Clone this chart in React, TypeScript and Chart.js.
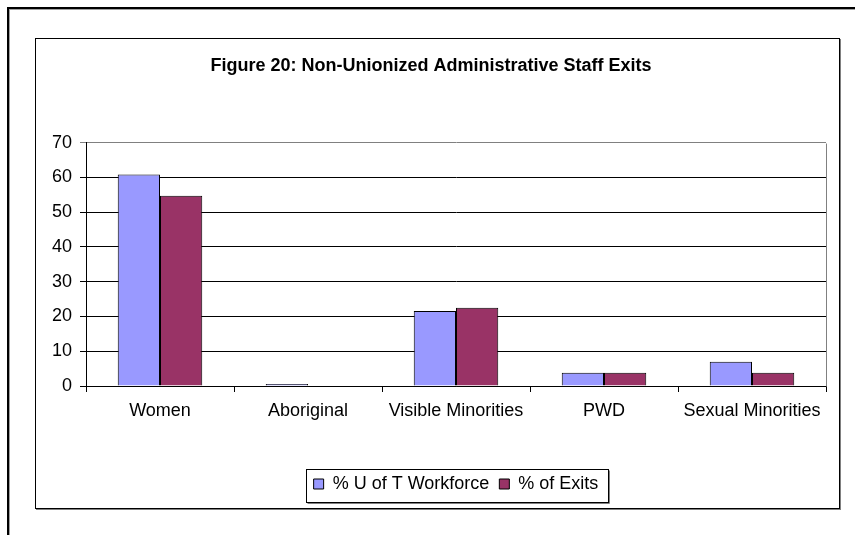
import React, { useEffect, useRef } from "react";
import { Chart, registerables } from "chart.js";

Chart.register(...registerables);

const chartTitle = "Figure 20: Non-Unionized Administrative Staff Exits";
const categories = ["Women", "Aboriginal", "Visible Minorities", "PWD", "Sexual Minorities"];
const seriesNames = ["% U of T Workforce", "% of Exits"];
const workforceValues = [60.8, 0.6, 21.6, 3.8, 7.0];
const exitValues = [54.7, 0, 22.5, 3.8, 3.8];
const yMin = 0;
const yMax = 70;
const yStep = 10;

const FONT = "'Liberation Sans', Arial, sans-serif";

const framePlugin = {
  id: "framePlugin",
  beforeDatasetsDraw(chart: any) {
    const { ctx, chartArea } = chart;
    ctx.save();
    ctx.strokeStyle = "#808080";
    ctx.lineWidth = 1;
    ctx.beginPath();
    ctx.moveTo(Math.round(chartArea.right) + 0.5, Math.round(chartArea.top) + 0.5);
    ctx.lineTo(Math.round(chartArea.right) + 0.5, Math.round(chartArea.bottom) + 0.5);
    ctx.stroke();
    ctx.restore();
  },
  afterDraw(chart: any) {
    const lg = chart.legend;
    if (!lg || !lg.legendHitBoxes || !lg.legendHitBoxes.length) return;
    const hbs = lg.legendHitBoxes;
    const first = hbs[0];
    const last = hbs[hbs.length - 1];
    const cy = first.top + first.height / 2;
    const left = Math.round(first.left - 8) + 0.5;
    const right = Math.round(last.left + last.width + 10) + 0.5;
    const top = Math.round(cy - 15) + 0.5;
    const bottom = Math.round(cy + 18) + 0.5;
    const { ctx } = chart;
    ctx.save();
    ctx.lineWidth = 1;
    ctx.strokeStyle = "#808080";
    ctx.beginPath();
    ctx.moveTo(left + 1, bottom + 1);
    ctx.lineTo(right + 1, bottom + 1);
    ctx.lineTo(right + 1, top + 1);
    ctx.stroke();
    ctx.strokeStyle = "#000000";
    ctx.strokeRect(left, top, right - left, bottom - top);
    ctx.restore();
  },
};

function BarChart() {
  const ref = useRef<HTMLCanvasElement | null>(null);
  useEffect(() => {
    if (!ref.current) return;
    const chart = new Chart(ref.current, {
      type: "bar",
      data: {
        labels: categories,
        datasets: [
          {
            label: seriesNames[0],
            data: workforceValues,
            backgroundColor: "#9999FF",
            borderColor: "#000000",
            borderWidth: 1,
            categoryPercentage: 0.571,
            barPercentage: 1,
          },
          {
            label: seriesNames[1],
            data: exitValues,
            backgroundColor: "#993366",
            borderColor: "#000000",
            borderWidth: 1,
            categoryPercentage: 0.571,
            barPercentage: 1,
          },
        ],
      },
      options: {
        animation: false,
        responsive: false,
        maintainAspectRatio: false,
        layout: { padding: { top: 0, left: 0, right: 13, bottom: 5 } },
        plugins: {
          title: {
            display: true,
            text: chartTitle,
            color: "#000000",
            font: { family: FONT, size: 18, weight: "bold" },
            padding: { top: 16, bottom: 66 },
          },
          legend: {
            display: true,
            position: "bottom",
            fullSize: false,
            labels: {
              color: "#000000",
              font: { family: FONT, size: 18 },
              boxWidth: 10,
              boxHeight: 10,
              padding: 10,
            },
          },
          tooltip: { enabled: false },
        },
        scales: {
          x: {
            offset: true,
            afterFit: (s: any) => {
              s.height = 79;
            },
            grid: {
              display: true,
              offset: true,
              drawOnChartArea: false,
              drawTicks: true,
              tickLength: 6,
              color: "#000000",
            },
            border: { display: true, color: "#000000", width: 1 },
            ticks: {
              color: "#000000",
              font: { family: FONT, size: 18 },
              padding: 8,
              maxRotation: 0,
              autoSkip: false,
            },
          },
          y: {
            min: yMin,
            max: yMax,
            afterFit: (s: any) => {
              s.width = 50;
            },
            grid: {
              display: true,
              drawTicks: true,
              tickLength: 6,
              color: (c: any) => (c.tick && c.tick.value === yMax ? "#808080" : "#000000"),
            },
            border: { display: true, color: "#000000", width: 1 },
            ticks: {
              stepSize: yStep,
              color: "#000000",
              font: { family: FONT, size: 18 },
              padding: 8,
            },
          },
        },
      },
      plugins: [framePlugin],
    });
    return () => chart.destroy();
  }, []);
  return <canvas ref={ref} width={803} height={469} style={{ display: "block", width: 803, height: 469 }} />;
}

export default function App() {
  return (
    <div
      style={{
        position: "absolute",
        left: 0,
        top: 0,
        width: 855,
        height: 535,
        overflow: "hidden",
        background: "#ffffff",
      }}
    >
      <div
        style={{
          position: "absolute",
          left: 7,
          top: 7,
          width: 900,
          height: 600,
          borderTop: "2px solid #000",
          borderLeft: "2px solid #000",
          boxShadow: "inset 1px 1px 0 #a0a0a0",
        }}
      />
      <div
        style={{
          position: "absolute",
          left: 35,
          top: 38,
          width: 803,
          height: 469,
          border: "1px solid #000",
          boxShadow: "1px 1px 0 #808080",
          background: "#ffffff",
        }}
      >
        <BarChart />
      </div>
    </div>
  );
}
